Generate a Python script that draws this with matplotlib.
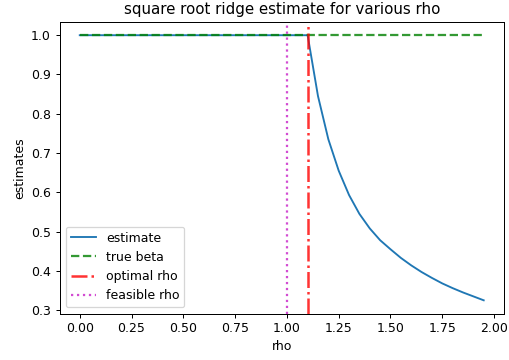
import numpy as np
import matplotlib
matplotlib.use('Agg')
import matplotlib.pyplot as plt

# rho grid and estimates
rhos = [0.00, 0.05, 0.10, 0.15, 0.20, 0.25, 0.30, 0.35, 0.40, 0.45,
        0.50, 0.55, 0.60, 0.65, 0.70, 0.75, 0.80, 0.85, 0.90, 0.95,
        1.00, 1.05, 1.10, 1.15, 1.20, 1.25, 1.30, 1.35, 1.40, 1.45,
        1.50, 1.55, 1.60, 1.65, 1.70, 1.75, 1.80, 1.85, 1.90, 1.95]
estimates = [1.0] * 23 + [0.845, 0.735, 0.655, 0.593, 0.545, 0.508, 0.478,
                          0.455, 0.433, 0.414, 0.397, 0.382, 0.368, 0.356,
                          0.345, 0.335, 0.325]
true_beta = [1.0] * len(rhos)
optimal_rho = 1.1
feasible_rho = 1.0

fig = plt.figure(figsize=(509 / 90, 360 / 90), dpi=90)
ax = fig.add_axes([0.117, 0.129, 0.873, 0.81])

ax.plot(rhos, estimates, label='estimate')
ax.plot(rhos, true_beta, 'g--', lw=1.8, alpha=0.8, label='true beta')
ax.axvline(optimal_rho, color='r', linestyle='-.', lw=2, alpha=0.8, label='optimal rho')
ax.axvline(feasible_rho, color='m', linestyle=':', lw=1.8, alpha=0.7, label='feasible rho')

ax.set_xlabel('rho')
ax.set_ylabel('estimates')
ax.set_title('square root ridge estimate for various rho')
ax.legend(loc='lower left')

fig.savefig('out.png', dpi=90)
